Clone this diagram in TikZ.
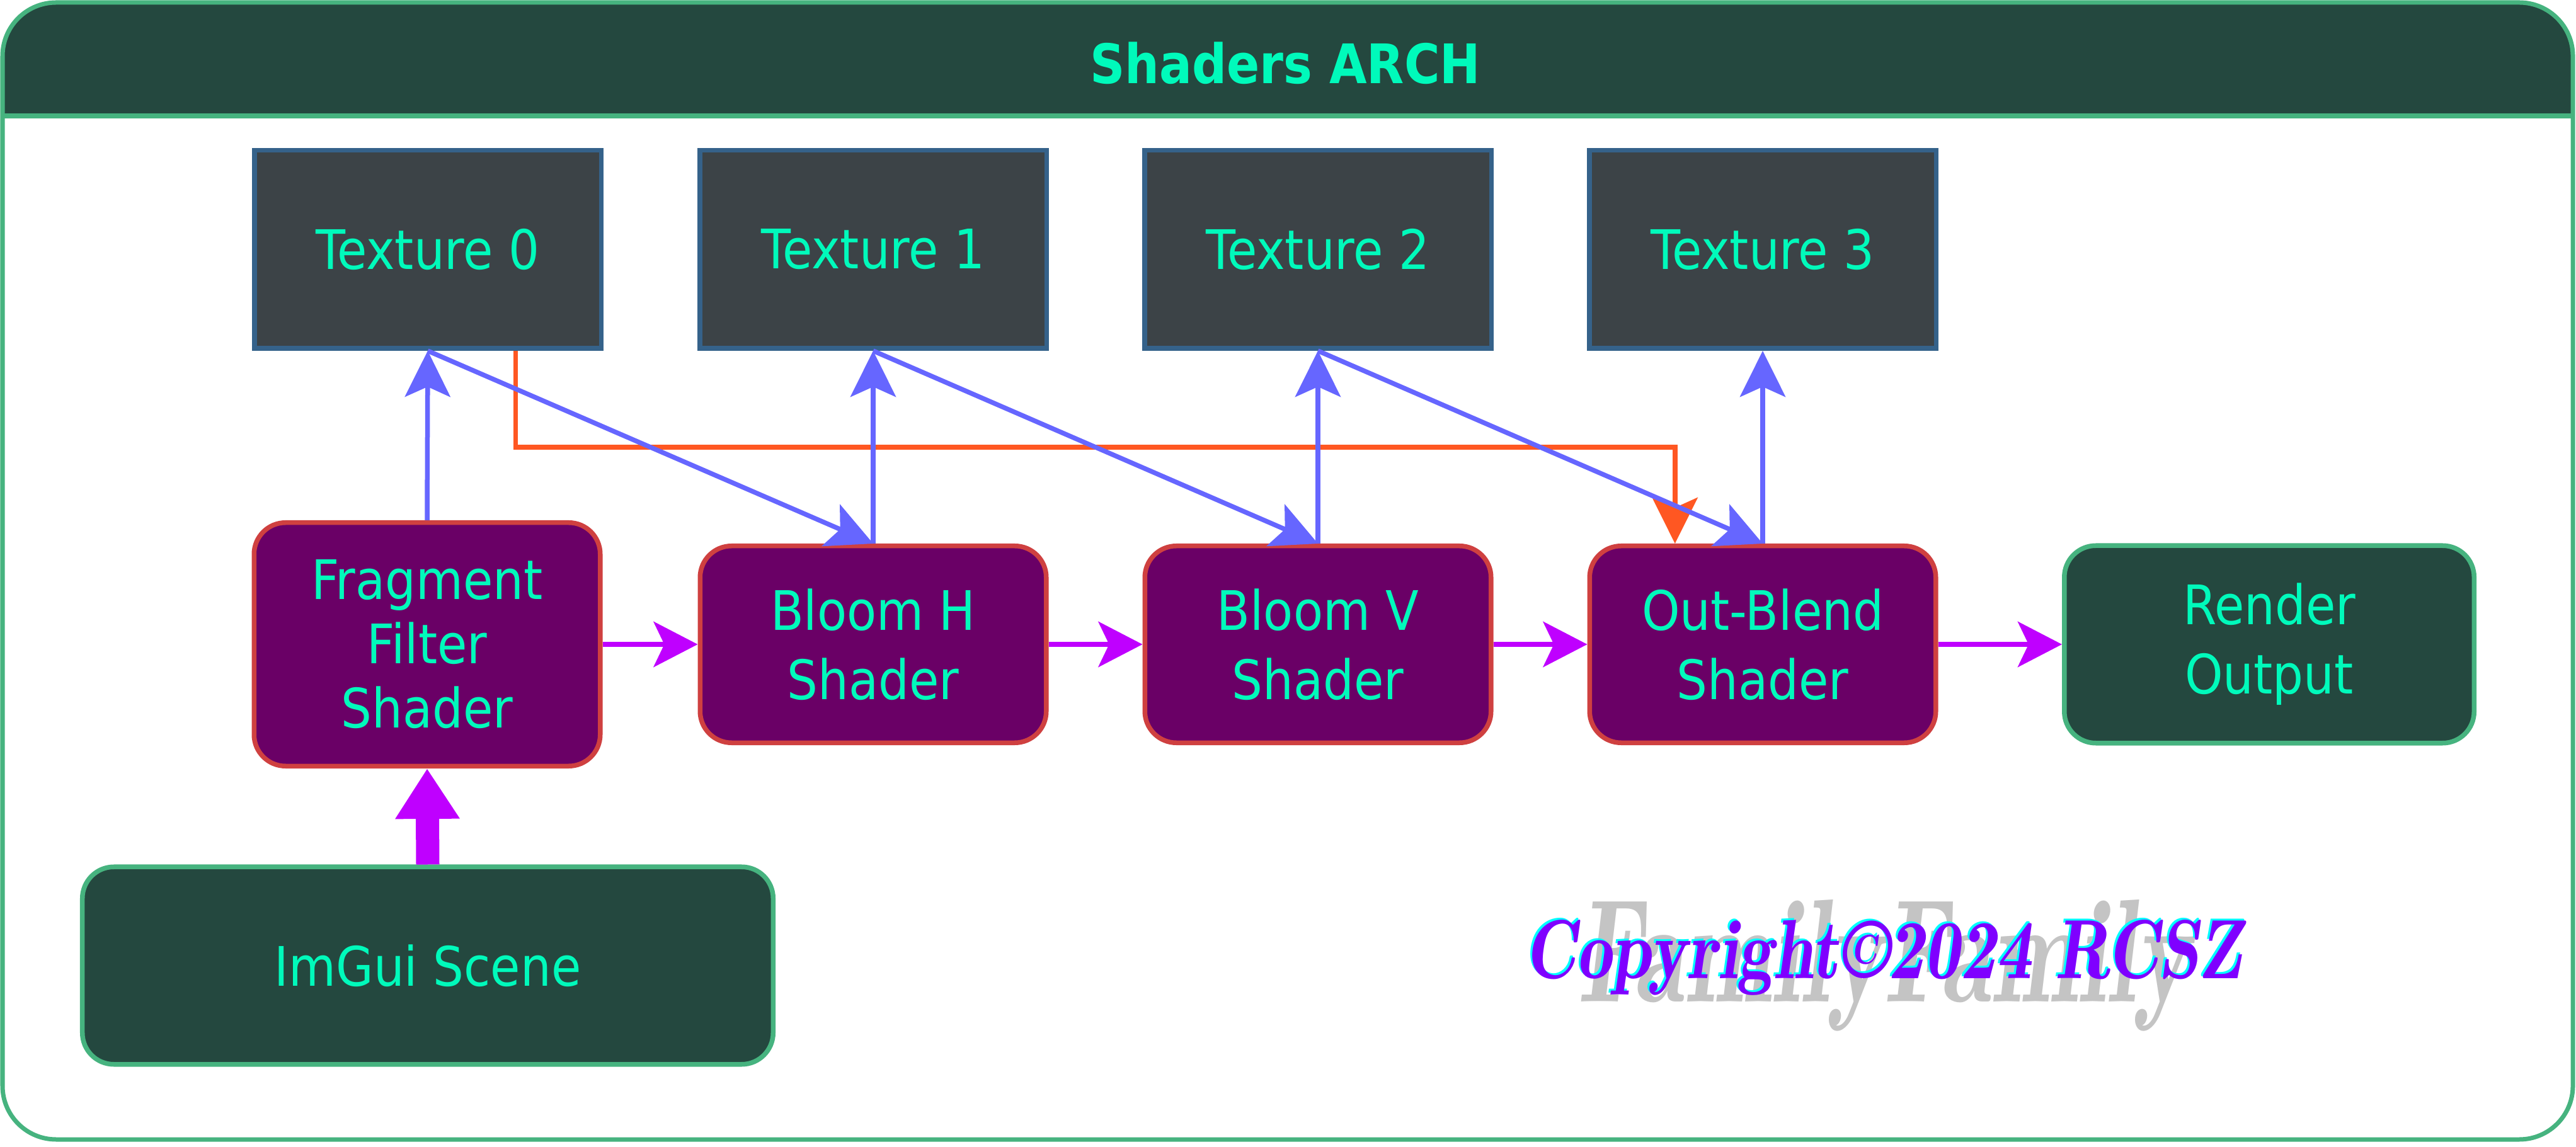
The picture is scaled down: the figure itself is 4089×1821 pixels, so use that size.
\documentclass[tikz,border=0pt]{standalone}
\usepackage{fontspec}
\setmainfont{DejaVu Sans}[FakeStretch=0.89]
\usetikzlibrary{arrows.meta,calc}
\definecolor{frameG}{HTML}{46B37F}
\definecolor{darkG}{HTML}{24483F}
\definecolor{texFill}{HTML}{3C4347}
\definecolor{texStroke}{HTML}{35628A}
\definecolor{shFill}{HTML}{6A0066}
\definecolor{shStroke}{HTML}{CF4040}
\definecolor{textc}{HTML}{00FABB}
\definecolor{blueA}{HTML}{6666FF}
\definecolor{purA}{HTML}{BF00FF}
\definecolor{oranA}{HTML}{FF5722}
\definecolor{cpPurple}{HTML}{7F00FF}
\definecolor{cpCyan}{HTML}{00FFFF}
\definecolor{grayW}{HTML}{C4C4C4}
\newcommand\lmbi{\fontfamily{lmr}\fontseries{b}\fontshape{it}\selectfont}
\begin{document}
\begin{tikzpicture}[x=0.2pt,y=-0.2pt,
  txt/.style={text=textc,font=\fontsize{17.3pt}{22pt}\selectfont,align=center,inner sep=0pt},
  texbox/.style={txt,draw=texStroke,fill=texFill,line width=1.5pt,minimum width=110.1pt,minimum height=62.9pt},
  shbox/.style={txt,draw=shStroke,fill=shFill,line width=1.5pt,rounded corners=10pt,minimum width=109.9pt,minimum height=62.5pt},
  gbox/.style={txt,draw=frameG,fill=darkG,line width=1.5pt,rounded corners=10pt,minimum height=62.7pt},
  bluearrow/.style={draw=blueA,line width=1.5pt,-{Stealth[length=14.6pt,width=14.4pt,inset=3.2pt]}},
  purarrow/.style={draw=purA,line width=1.6pt,-{Stealth[length=14pt,width=14.4pt,inset=3.4pt]}},
  orarrow/.style={draw=oranA,line width=1.5pt,-{Stealth[length=14.6pt,width=14.4pt,inset=3.2pt]}},
  thickarrow/.style={draw=purA,line width=7.4pt,-{Triangle[length=16pt,width=19.4pt]}},
  wm/.style={anchor=base west,inner sep=0pt}]
\useasboundingbox (0,0) rectangle (4089,1821);
% frame
\fill[white,rounded corners=17pt] (4,4) rectangle (4084,1809);
\begin{scope}
\clip[rounded corners=17pt] (4,4) rectangle (4084,1809);
\fill[darkG] (4,4) rectangle (4084,184);
\end{scope}
\draw[frameG,line width=1.5pt] (4,184) -- (4084,184);
\draw[frameG,line width=1.4pt,rounded corners=17pt] (4,4) rectangle (4084,1809);
\node[text=textc,inner sep=0pt,font=\fontsize{17.3pt}{22pt}\selectfont\bfseries] (title) at (2040,100) {Shaders ARCH};
% textures
\node[texbox] (t0) at (679,396) {Texture 0};
\node[texbox] (t1) at (1386,396) {Texture 1};
\node[texbox] (t2) at (2092,396) {Texture 2};
\node[texbox] (t3) at (2798,396) {Texture 3};
% shaders
\node[shbox,minimum height=77.3pt,font=\fontsize{17.3pt}{20.4pt}\selectfont] (fr) at (678,1023) {Fragment\\Filter\\Shader};
\node[shbox] (bh) at (1386,1023) {Bloom H\\Shader};
\node[shbox] (bv) at (2092,1023) {Bloom V\\Shader};
\node[shbox] (ob) at (2798,1023) {Out-Blend\\Shader};
\node[gbox,minimum width=130.1pt] (ro) at (3602,1023) {Render\\Output};
\node[gbox,minimum width=219.3pt] (im) at (679,1533) {ImGui Scene};
% watermark
\node[wm,text=grayW] (wmk) at (2503,1590) {\resizebox{194.4pt}{32.4pt}{\lmbi FamilyFamily}};
\node[wm,text=cpCyan] (cpb) at (2416,1550) {\resizebox{228pt}{18.6pt}{\lmbi Copyright\textcopyright2024 RCSZ}};
\node[wm,text=cpPurple] (cp) at (2419,1553) {\resizebox{228pt}{18.6pt}{\lmbi Copyright\textcopyright2024 RCSZ}};
% orange connector
\coordinate (o1) at ($(t0.south west)!0.75!(t0.south east)$);
\coordinate (o2) at ($(ob.north west)!0.25!(ob.north east)$);
\coordinate (oy) at (0,710);
\draw[orarrow] (o1) -- (o1 |- oy) -| (o2);
% blue connectors
\draw[bluearrow] (fr.north) -- (t0.south);
\draw[bluearrow] (t0.south) -- (bh.north);
\draw[bluearrow] (bh.north) -- (t1.south);
\draw[bluearrow] (t1.south) -- (bv.north);
\draw[bluearrow] (bv.north) -- (t2.south);
\draw[bluearrow] (t2.south) -- (ob.north);
\draw[bluearrow] (ob.north) -- (t3.south);
% purple flow
\draw[purarrow] (fr.east) -- (bh.west);
\draw[purarrow] (bh.east) -- (bv.west);
\draw[purarrow] (bv.east) -- (ob.west);
\draw[purarrow] (ob.east) -- (ro.west);
\draw[thickarrow] (im.north) -- (fr.south);
\end{tikzpicture}
\end{document}
